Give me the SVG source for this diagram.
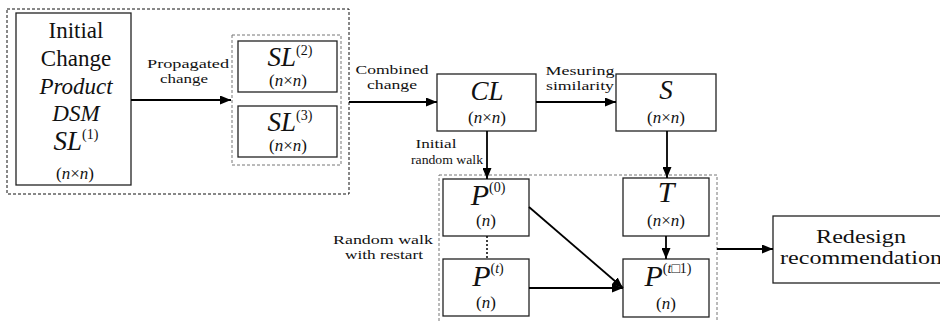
<svg xmlns="http://www.w3.org/2000/svg" width="940" height="322" viewBox="0 0 940 322">
<style>
text{font-family:'Liberation Serif','Times New Roman','DejaVu Serif',serif;fill:#111;text-anchor:middle}
.box{fill:#fff;stroke:#222;stroke-width:1.3}
.grp{fill:none;stroke-width:1;stroke-dasharray:3 2}
.big{font-size:23px}
.m{font-size:27px;font-style:italic}
.mP{font-size:30px;font-style:italic}
.sup{font-size:14px;font-style:normal}
.dim{font-size:17px}
.i{font-style:italic}
.lab{font-size:13px}
.red{font-size:18px}
.conn line{stroke:#000;stroke-width:1.8}
</style>
<defs>
<marker id="ah" markerUnits="userSpaceOnUse" markerWidth="11" markerHeight="9" refX="11" refY="4.5" orient="auto">
<path d="M0,0 L11,4.5 L0,9 z" fill="#000"/>
</marker>
</defs>
<rect width="940" height="322" fill="#fff"/>

<g id="groups">
<rect class="grp" x="7" y="9" width="342" height="185" stroke="#111"/>
<rect class="grp" x="232" y="35" width="109" height="130" stroke="#777"/>
<rect class="grp" x="439" y="175" width="278" height="160" stroke="#777"/>
</g>

<g id="initial">
<rect class="box" x="16" y="13" width="115" height="172"/>
<text class="big" x="76" y="38">Initial</text>
<text class="big" x="76" y="66">Change</text>
<text class="big i" x="76" y="94">Product</text>
<text class="big i" x="76" y="121">DSM</text>
<text class="m" x="76" y="150">SL<tspan class="sup" dy="-11">(1)</tspan></text>
<text class="dim" x="75" y="179">(<tspan class="i">n</tspan>×<tspan class="i">n</tspan>)</text>
</g>

<g id="sl2">
<rect class="box" x="238" y="41" width="99" height="51"/>
<text class="m" x="290" y="66">SL<tspan class="sup" dy="-11">(2)</tspan></text>
<text class="dim" x="288" y="86">(<tspan class="i">n</tspan>×<tspan class="i">n</tspan>)</text>
</g>

<g id="sl3">
<rect class="box" x="238" y="106" width="99" height="51"/>
<text class="m" x="290" y="131">SL<tspan class="sup" dy="-11">(3)</tspan></text>
<text class="dim" x="288" y="151">(<tspan class="i">n</tspan>×<tspan class="i">n</tspan>)</text>
</g>

<g id="cl">
<rect class="box" x="437" y="74" width="99" height="57"/>
<text class="m" x="487" y="100">CL</text>
<text class="dim" x="487" y="123">(<tspan class="i">n</tspan>×<tspan class="i">n</tspan>)</text>
</g>

<g id="s">
<rect class="box" x="616" y="74" width="100" height="57"/>
<text class="m" x="666" y="99">S</text>
<text class="dim" x="666" y="123">(<tspan class="i">n</tspan>×<tspan class="i">n</tspan>)</text>
</g>

<g id="p0">
<rect class="box" x="443" y="179" width="86" height="57"/>
<text class="mP" x="488" y="205">P<tspan class="sup" dy="-13">(0)</tspan></text>
<text class="dim" x="486" y="226">(<tspan class="i">n</tspan>)</text>
</g>

<g id="pt">
<rect class="box" x="443" y="259" width="86" height="57"/>
<text class="mP" x="488" y="286">P<tspan class="sup" dy="-13">(<tspan class="i">t</tspan>)</tspan></text>
<text class="dim" x="486" y="308">(<tspan class="i">n</tspan>)</text>
</g>

<g id="t">
<rect class="box" x="623" y="178" width="86" height="58"/>
<text class="mP" x="666" y="202">T</text>
<text class="dim" x="666" y="226">(<tspan class="i">n</tspan>×<tspan class="i">n</tspan>)</text>
</g>

<g id="pt1">
<rect class="box" x="623" y="259" width="86" height="58"/>
<text class="mP" x="668" y="286">P<tspan class="sup" dy="-13">(<tspan class="i">t</tspan>□1)</tspan></text>
<text class="dim" x="666" y="309">(<tspan class="i">n</tspan>)</text>
</g>

<g id="redesign">
<rect class="box" x="773" y="216" width="180" height="67"/>
<text class="red" x="861" y="243" textLength="90" lengthAdjust="spacingAndGlyphs">Redesign</text>
<text class="red" x="861" y="264" textLength="162" lengthAdjust="spacingAndGlyphs">recommendation</text>
</g>

<g id="labels">
<text class="lab" x="188" y="68" textLength="82" lengthAdjust="spacingAndGlyphs">Propagated</text>
<text class="lab" x="184" y="83" textLength="48" lengthAdjust="spacingAndGlyphs">change</text>
<text class="lab" x="392" y="74" textLength="73" lengthAdjust="spacingAndGlyphs">Combined</text>
<text class="lab" x="392" y="89" textLength="50" lengthAdjust="spacingAndGlyphs">change</text>
<text class="lab" x="580" y="75" textLength="69" lengthAdjust="spacingAndGlyphs">Mesuring</text>
<text class="lab" x="580" y="90" textLength="68" lengthAdjust="spacingAndGlyphs">similarity</text>
<text class="lab" x="436" y="148" textLength="41" lengthAdjust="spacingAndGlyphs">Initial</text>
<text class="lab" x="447" y="164" textLength="72" lengthAdjust="spacingAndGlyphs">random walk</text>
<text class="lab" x="383" y="244" textLength="100" lengthAdjust="spacingAndGlyphs">Random walk</text>
<text class="lab" x="384" y="259" textLength="78" lengthAdjust="spacingAndGlyphs">with restart</text>
</g>

<g id="connectors" class="conn">
<line x1="131" y1="100" x2="231" y2="100" marker-end="url(#ah)"/>
<line x1="349" y1="102" x2="437" y2="102" marker-end="url(#ah)"/>
<line x1="536" y1="102" x2="616" y2="102" marker-end="url(#ah)"/>
<line x1="487" y1="131" x2="487" y2="179" marker-end="url(#ah)"/>
<line x1="667" y1="131" x2="667" y2="178" marker-end="url(#ah)"/>
<line x1="666" y1="236" x2="666" y2="259" marker-end="url(#ah)"/>
<line x1="487" y1="236" x2="487" y2="259" style="stroke-dasharray:2 2;stroke-width:1.5"/>
<line x1="529" y1="207" x2="623" y2="288" marker-end="url(#ah)"/>
<line x1="529" y1="288" x2="623" y2="288" marker-end="url(#ah)"/>
<line x1="717" y1="249" x2="773" y2="249" marker-end="url(#ah)"/>
</g>
</svg>
